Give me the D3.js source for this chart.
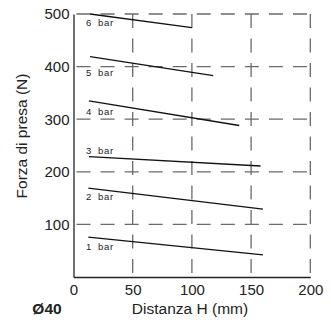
<!DOCTYPE html>
<html>
<head>
<meta charset="utf-8">
<script src="https://cdn.jsdelivr.net/npm/d3@7"></script>
<style>
  html, body { margin: 0; padding: 0; background: #fff; }
  svg { display: block; }
  text { font-family: "Liberation Sans", Arial, Helvetica, sans-serif; fill: #222; }
</style>
</head>
<body>
<svg id="chart" width="331" height="322"></svg>
<script>
// ---- data ----
const seriesLabels = ["1 bar", "2 bar", "3 bar", "4 bar", "5 bar", "6 bar"];
const xStart = [12.5, 12.5, 13, 13, 14, 14];
const xEnd   = [160, 160, 158, 140, 118, 100];
const yStart = [76, 169, 229, 335, 419, 500];
const yEnd   = [42, 129, 211, 288, 383, 474];
const xTicks = [0, 50, 100, 150, 200];
const yTicks = [100, 200, 300, 400, 500];
const xTitle = "Distanza H (mm)";
const yTitle = "Forza di presa (N)";
const modelLabel = "Ø40";

// ---- layout ----
const svg = d3.select("#chart");
const x = d3.scaleLinear().domain([0, 200]).range([73.5, 310.3]);
const y = d3.scaleLinear().domain([0, 500]).range([277, 14]);

// grid (dashed)
const grid = svg.append("g").attr("stroke", "#6a6a6a").attr("stroke-width", 1.3).attr("fill", "none");
grid.selectAll("line.h").data(yTicks).join("line")
  .attr("class", "h")
  .attr("x1", x(0)).attr("x2", x(200))
  .attr("y1", d => y(d)).attr("y2", d => y(d))
  .attr("stroke-dasharray", "14,10.05")
  .attr("stroke-dashoffset", 21.05);
grid.selectAll("line.v").data(xTicks.filter(d => d > 0)).join("line")
  .attr("class", "v")
  .attr("x1", d => x(d)).attr("x2", d => x(d))
  .attr("y1", y(500)).attr("y2", y(0))
  .attr("stroke-dasharray", "14,10.5");

// axes
const yAxis = svg.append("g")
  .attr("transform", `translate(${x(0)},0)`)
  .call(d3.axisLeft(y).tickValues(yTicks).tickSize(0).tickSizeOuter(0).tickPadding(4));
const xAxis = svg.append("g")
  .attr("transform", `translate(0,${y(0)})`)
  .call(d3.axisBottom(x).tickValues(xTicks).tickSize(0).tickSizeOuter(0).tickPadding(7.5));
[yAxis, xAxis].forEach(g => {
  g.select(".domain").attr("stroke", "#222").attr("stroke-width", 1.3);
  g.selectAll("text").attr("font-size", 15).attr("fill", "#222")
    .attr("font-family", "'Liberation Sans', Arial, sans-serif");
});

// data lines
const series = seriesLabels.map((lab, i) => ({
  label: lab, pts: [[xStart[i], yStart[i]], [xEnd[i], yEnd[i]]]
}));
const line = d3.line().x(d => x(d[0])).y(d => y(d[1]));
svg.append("g").selectAll("path").data(series).join("path")
  .attr("d", d => line(d.pts))
  .attr("fill", "none").attr("stroke", "#111").attr("stroke-width", 1.3);

// series labels (offset in px from the line start)
const labelOffsets = [13, 12, -3, 14, 19, 11.5];
svg.append("g").selectAll("text").data(series).join("text")
  .attr("x", 86)
  .attr("y", (d, i) => y(d.pts[0][1]) + labelOffsets[i])
  .attr("font-size", 9.5)
  .attr("letter-spacing", 0.6)
  .attr("word-spacing", 3)
  .attr("fill", "#111")
  .text(d => d.label);

// titles
svg.append("text")
  .attr("transform", `translate(27,${136}) rotate(-90)`)
  .attr("text-anchor", "middle")
  .attr("font-size", 15.5)
  .text(yTitle);
svg.append("text")
  .attr("x", 190).attr("y", 313.5)
  .attr("text-anchor", "middle")
  .attr("font-size", 15.5)
  .text(xTitle);
svg.append("text")
  .attr("x", 47).attr("y", 314)
  .attr("text-anchor", "middle")
  .attr("font-size", 15.5)
  .attr("font-weight", "bold")
  .text(modelLabel);
</script>
</body>
</html>
